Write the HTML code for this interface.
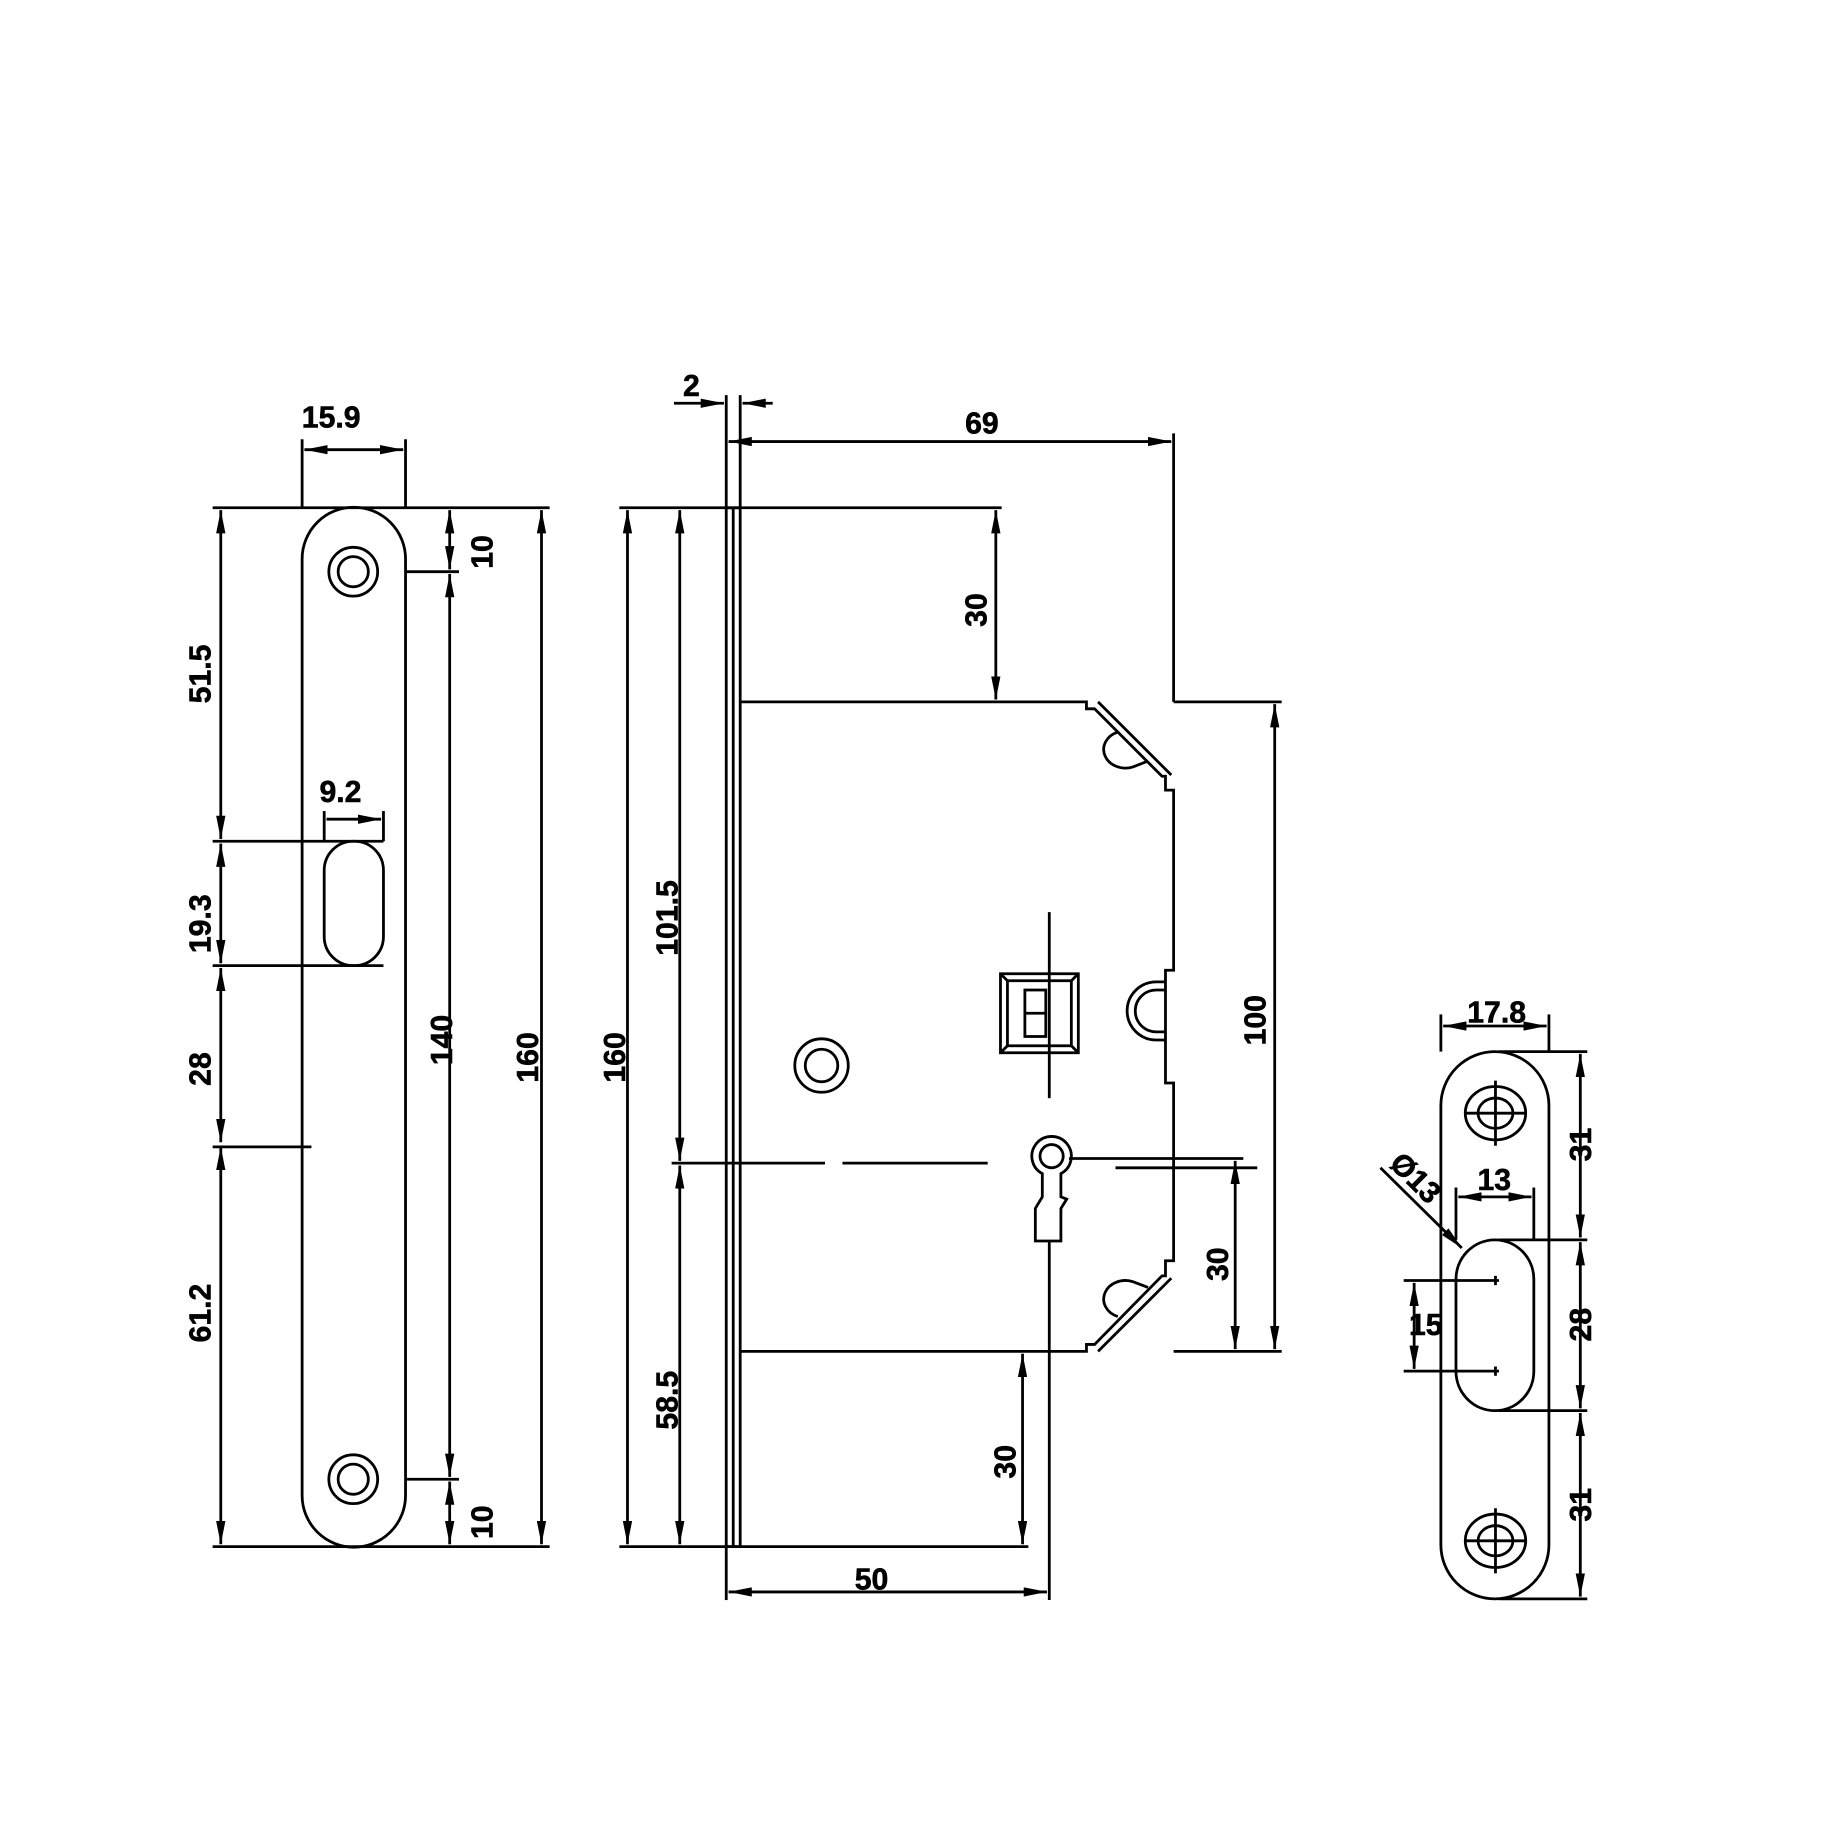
<!DOCTYPE html>
<html><head><meta charset="utf-8"><style>
html,body{margin:0;padding:0;background:#fff}
svg{display:block}
text{font-family:"Liberation Sans",Arial,sans-serif;font-weight:bold;font-size:26px;fill:#000;stroke:#000;stroke-width:0.5}
</style></head><body>
<svg width="1822" height="1822" viewBox="0 0 1568 1568" xmlns="http://www.w3.org/2000/svg">
<defs>
<marker id="a" viewBox="0 0 20 8" refX="20" refY="4" markerWidth="20" markerHeight="8" markerUnits="userSpaceOnUse" orient="auto-start-reverse"><path d="M0,0 L20,4 L0,8 z" fill="#000"/></marker>
</defs>
<g fill="none" stroke="#000" stroke-width="2.4">
<!-- LEFT FACEPLATE -->
<path d="M260,481 A44.5,44.5 0 0 1 349,481 L349,1287 A44.5,44.5 0 0 1 260,1287 Z"/>
<circle cx="304" cy="492" r="21"/><circle cx="304" cy="492" r="13"/>
<circle cx="304" cy="1273" r="21"/><circle cx="304" cy="1273" r="13"/>
<rect x="279" y="724" width="51" height="107" rx="25"/>
<line x1="260" y1="378" x2="260" y2="437"/><line x1="349" y1="378" x2="349" y2="437"/>
<line x1="262" y1="387" x2="347" y2="387" marker-start="url(#a)" marker-end="url(#a)"/>
<line x1="183" y1="437" x2="473" y2="437"/><line x1="183" y1="1331" x2="473" y2="1331"/>
<line x1="190" y1="439" x2="190" y2="722" marker-start="url(#a)" marker-end="url(#a)"/>
<line x1="190" y1="726" x2="190" y2="829" marker-start="url(#a)" marker-end="url(#a)"/>
<line x1="190" y1="833" x2="190" y2="983" marker-start="url(#a)" marker-end="url(#a)"/>
<line x1="190" y1="987" x2="190" y2="1329" marker-start="url(#a)" marker-end="url(#a)"/>
<line x1="183" y1="724" x2="330" y2="724"/><line x1="183" y1="831" x2="330" y2="831"/>
<line x1="183" y1="987" x2="268" y2="987"/>
<line x1="279" y1="698" x2="279" y2="724"/><line x1="330" y1="698" x2="330" y2="724"/>
<line x1="281" y1="705" x2="328" y2="705" marker-end="url(#a)"/>
<line x1="349" y1="492" x2="395" y2="492"/><line x1="349" y1="1273" x2="395" y2="1273"/>
<line x1="387" y1="439" x2="387" y2="490" marker-start="url(#a)" marker-end="url(#a)"/>
<line x1="387" y1="494" x2="387" y2="1271" marker-start="url(#a)" marker-end="url(#a)"/>
<line x1="387" y1="1275" x2="387" y2="1329" marker-start="url(#a)" marker-end="url(#a)"/>
<line x1="466" y1="439" x2="466" y2="1329" marker-start="url(#a)" marker-end="url(#a)"/>

<!-- LOCK BODY -->
<rect x="625" y="437" width="12" height="894"/>
<line x1="631" y1="437" x2="631" y2="1331"/>
<line x1="625" y1="340" x2="625" y2="437"/><line x1="637" y1="340" x2="637" y2="437"/>
<line x1="580" y1="347" x2="623" y2="347" marker-end="url(#a)"/>
<line x1="665" y1="347" x2="639" y2="347" marker-end="url(#a)"/>
<line x1="1010" y1="373" x2="1010" y2="604"/>
<line x1="627" y1="380" x2="1008" y2="380" marker-start="url(#a)" marker-end="url(#a)"/>
<line x1="533" y1="437" x2="862" y2="437"/><line x1="533" y1="1331" x2="885" y2="1331"/>
<line x1="540" y1="439" x2="540" y2="1329" marker-start="url(#a)" marker-end="url(#a)"/>
<line x1="585" y1="439" x2="585" y2="999" marker-start="url(#a)" marker-end="url(#a)"/>
<line x1="585" y1="1003" x2="585" y2="1329" marker-start="url(#a)" marker-end="url(#a)"/>
<line x1="578" y1="1001" x2="710" y2="1001"/><line x1="725" y1="1001" x2="850" y2="1001"/>
<line x1="920" y1="997" x2="1070" y2="997"/><line x1="960" y1="1005" x2="1082" y2="1005"/>
<!-- case -->
<path d="M637,604 L935,604 L935,610 L942,610 L1000,668 L1003,668 L1003,680 L1010,680 L1010,835 L1003,835 L1003,932 L1010,932 L1010,1085 L1003,1085 L1003,1098 L1000,1098 L942,1157 L935,1157 L935,1163 L637,1163"/>
<path d="M945,604 L1008,667"/><path d="M945,1163 L1008,1100"/>
<path d="M962,630 A14,12 0 0 0 975,660 L988,655"/>
<path d="M962,1133 A14,12 0 0 1 975,1103 L988,1108"/>
<path d="M1003,845 L995,845 A18,18 0 0 0 995,895 L1003,895"/>
<path d="M1003,852 L995,852 A11,11 0 0 0 995,888 L1003,888"/>
<line x1="1010" y1="604" x2="1103" y2="604"/><line x1="1010" y1="1163" x2="1103" y2="1163"/>
<line x1="857" y1="439" x2="857" y2="602" marker-start="url(#a)" marker-end="url(#a)"/>
<line x1="1097" y1="606" x2="1097" y2="1161" marker-start="url(#a)" marker-end="url(#a)"/>
<line x1="1063" y1="999" x2="1063" y2="1161" marker-start="url(#a)" marker-end="url(#a)"/>
<line x1="880" y1="1165" x2="880" y2="1329" marker-start="url(#a)" marker-end="url(#a)"/>
<line x1="903" y1="785" x2="903" y2="945"/><line x1="903" y1="1068" x2="903" y2="1377"/>
<line x1="627" y1="1370" x2="901" y2="1370" marker-start="url(#a)" marker-end="url(#a)"/>
<line x1="625" y1="1331" x2="625" y2="1377"/>
<!-- follower -->
<rect x="861" y="838" width="67" height="68"/>
<rect x="867" y="844" width="55" height="56"/>
<line x1="861" y1="838" x2="867" y2="844"/><line x1="928" y1="838" x2="922" y2="844"/>
<line x1="861" y1="906" x2="867" y2="900"/><line x1="928" y1="906" x2="922" y2="900"/>
<rect x="882" y="852" width="18" height="40"/>
<line x1="882" y1="872" x2="900" y2="872"/>
<circle cx="707" cy="917" r="23"/><circle cx="707" cy="917" r="14"/>
<!-- keyhole -->
<path d="M897,1010 A17,17 0 1 1 913,1010 L913,1030 L918,1032 L913,1040 L913,1068 L891,1068 L891,1040 L897,1030 Z"/>
<circle cx="905" cy="995" r="10"/>

<!-- STRIKE PLATE -->
<path d="M1240,951.5 A46.5,46.5 0 0 1 1333,951.5 L1333,1329.5 A46.5,46.5 0 0 1 1240,1329.5 Z"/>
<ellipse cx="1287" cy="958" rx="26" ry="23"/><ellipse cx="1287" cy="958" rx="15" ry="13"/>
<line x1="1261" y1="958" x2="1313" y2="958"/><line x1="1287" y1="930" x2="1287" y2="986"/>
<ellipse cx="1287" cy="1326" rx="26" ry="23"/><ellipse cx="1287" cy="1326" rx="15" ry="13"/>
<line x1="1261" y1="1326" x2="1313" y2="1326"/><line x1="1287" y1="1298" x2="1287" y2="1354"/>
<rect x="1253" y="1067" width="67" height="147" rx="34"/>
<line x1="1240" y1="873" x2="1240" y2="905"/><line x1="1333" y1="873" x2="1333" y2="905"/>
<line x1="1242" y1="883" x2="1331" y2="883" marker-start="url(#a)" marker-end="url(#a)"/>
<line x1="1290" y1="905" x2="1366" y2="905"/><line x1="1290" y1="1067" x2="1366" y2="1067"/>
<line x1="1290" y1="1214" x2="1366" y2="1214"/><line x1="1290" y1="1376" x2="1366" y2="1376"/>
<line x1="1360" y1="907" x2="1360" y2="1065" marker-start="url(#a)" marker-end="url(#a)"/>
<line x1="1360" y1="1069" x2="1360" y2="1212" marker-start="url(#a)" marker-end="url(#a)"/>
<line x1="1360" y1="1216" x2="1360" y2="1374" marker-start="url(#a)" marker-end="url(#a)"/>
<line x1="1253" y1="1022" x2="1253" y2="1067"/><line x1="1320" y1="1022" x2="1320" y2="1067"/>
<line x1="1255" y1="1030" x2="1318" y2="1030" marker-start="url(#a)" marker-end="url(#a)"/>
<line x1="1208" y1="1102" x2="1290" y2="1102"/><line x1="1208" y1="1180" x2="1290" y2="1180"/>
<line x1="1287" y1="1098" x2="1287" y2="1106"/><line x1="1287" y1="1176" x2="1287" y2="1184"/>
<line x1="1217" y1="1104" x2="1217" y2="1178" marker-start="url(#a)" marker-end="url(#a)"/>
<line x1="1188" y1="1005" x2="1258" y2="1074" marker-end="url(#a)"/>
</g>
<g>
<text x="285" y="368" text-anchor="middle">15.9</text>
<text x="293" y="690" text-anchor="middle">9.2</text>
<text transform="translate(181,580) rotate(-90)" text-anchor="middle">51.5</text>
<text transform="translate(181,795) rotate(-90)" text-anchor="middle">19.3</text>
<text transform="translate(181,920) rotate(-90)" text-anchor="middle">28</text>
<text transform="translate(181,1130) rotate(-90)" text-anchor="middle">61.2</text>
<text transform="translate(424,475) rotate(-90)" text-anchor="middle">10</text>
<text transform="translate(389,895) rotate(-90)" text-anchor="middle">140</text>
<text transform="translate(424,1310) rotate(-90)" text-anchor="middle">10</text>
<text transform="translate(463,910) rotate(-90)" text-anchor="middle">160</text>
<text x="595" y="341" text-anchor="middle">2</text>
<text x="845" y="373" text-anchor="middle">69</text>
<text transform="translate(538,910) rotate(-90)" text-anchor="middle">160</text>
<text transform="translate(583,790) rotate(-90)" text-anchor="middle">101.5</text>
<text transform="translate(583,1205) rotate(-90)" text-anchor="middle">58.5</text>
<text transform="translate(849,525) rotate(-90)" text-anchor="middle">30</text>
<text transform="translate(1089,878) rotate(-90)" text-anchor="middle">100</text>
<text transform="translate(1057,1088) rotate(-90)" text-anchor="middle">30</text>
<text transform="translate(874,1258) rotate(-90)" text-anchor="middle">30</text>
<text x="750" y="1368" text-anchor="middle">50</text>
<text x="1288" y="880" text-anchor="middle">17.8</text>
<text x="1286" y="1024" text-anchor="middle">13</text>
<text x="1227" y="1149" text-anchor="middle">15</text>
<text transform="translate(1369,985) rotate(-90)" text-anchor="middle">31</text>
<text transform="translate(1369,1140) rotate(-90)" text-anchor="middle">28</text>
<text transform="translate(1369,1295) rotate(-90)" text-anchor="middle">31</text>
<text transform="translate(1212,1020) rotate(45)" text-anchor="middle">Ø13</text>
</g>
</svg>
</body></html>
